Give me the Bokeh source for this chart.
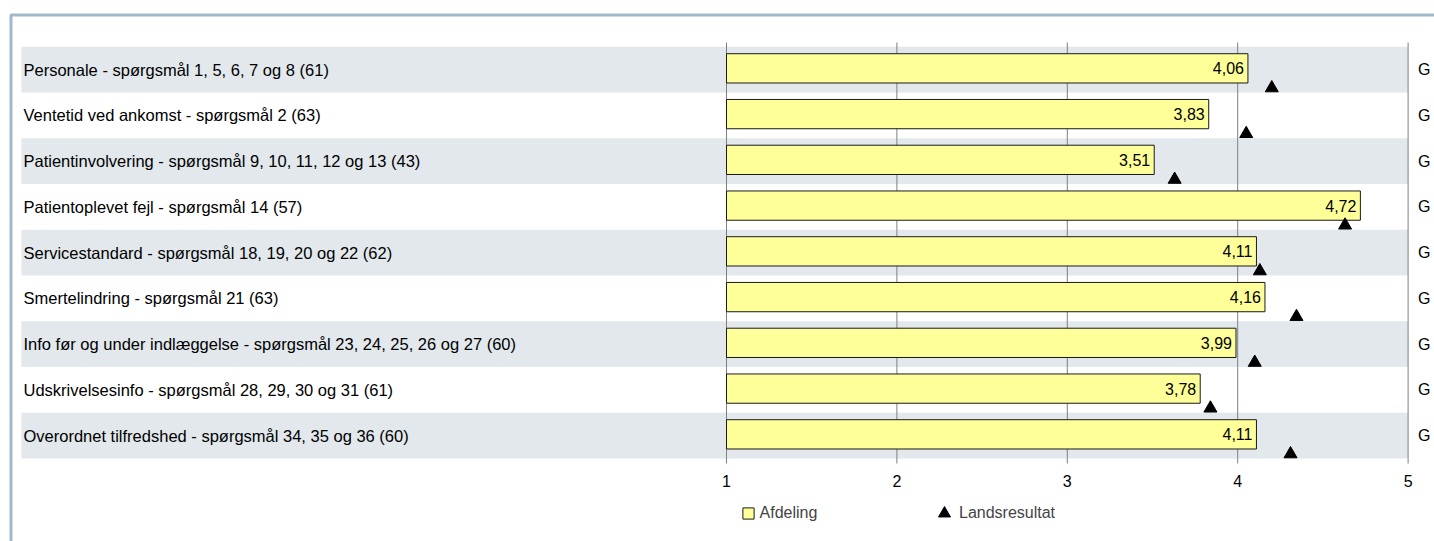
from bokeh.plotting import figure
from bokeh.models import Range1d, LinearAxis, FixedTicker, Legend, LegendItem, ColumnDataSource
from bokeh.core.properties import value
from bokeh.embed import file_html
from bokeh.resources import INLINE

# ---------------- data ----------------
categories = [
    "Personale - spørgsmål 1, 5, 6, 7 og 8 (61)",
    "Ventetid ved ankomst - spørgsmål 2 (63)",
    "Patientinvolvering - spørgsmål 9, 10, 11, 12 og 13 (43)",
    "Patientoplevet fejl - spørgsmål 14 (57)",
    "Servicestandard - spørgsmål 18, 19, 20 og 22 (62)",
    "Smertelindring - spørgsmål 21 (63)",
    "Info før og under indlæggelse - spørgsmål 23, 24, 25, 26 og 27 (60)",
    "Udskrivelsesinfo - spørgsmål 28, 29, 30 og 31 (61)",
    "Overordnet tilfredshed - spørgsmål 34, 35 og 36 (60)",
]
afdeling = [4.06, 3.83, 3.51, 4.72, 4.11, 4.16, 3.99, 3.78, 4.11]
landsresultat = [4.20, 4.05, 3.63, 4.63, 4.13, 4.345, 4.10, 3.84, 4.31]
side_marks = ["G", "G", "G", "G", "G", "G", "G", "G", "G"]
x_ticks = [1, 2, 3, 4, 5]
series_names = ["Afdeling", "Landsresultat"]

# ---------------- layout helpers ----------------
W, H = 1434, 541
PX_PER_UNIT = 170.4          # horizontal pixels per score unit
ONE_AT = 726                 # canvas x of score 1
ROW_PX = 45.75               # row pitch in pixels
ROW0_AT = 69                 # canvas y of first row centre

x_start = 1 - ONE_AT / PX_PER_UNIT
x_end = x_start + W / PX_PER_UNIT
y_top = -ROW0_AT / ROW_PX
y_bottom = (H - ROW0_AT) / ROW_PX

def cx(px):   # canvas px -> x data
    return x_start + px / PX_PER_UNIT

def cy(py):   # canvas px -> y data
    return (py - ROW0_AT) / ROW_PX

rows = list(range(len(categories)))
labels = [f"{v:.2f}".replace(".", ",") for v in afdeling]

src = ColumnDataSource(dict(
    row=rows,
    cat=categories,
    afd=afdeling,
    lands=landsresultat,
    lab=labels,
    mark=side_marks,
    bar_y=[r - 0.025 for r in rows],
    tri_y=[r + 0.405 for r in rows],
))
band_src = ColumnDataSource(dict(row=[r for r in rows if r % 2 == 0]))

p = figure(width=W, height=H, output_backend="svg", toolbar_location=None,
           x_range=Range1d(x_start, x_end), y_range=Range1d(y_bottom, y_top),
           x_axis_location=None, y_axis_location=None, min_border=0,
           outline_line_color=None, background_fill_color="white",
           border_fill_color="white")
p.xgrid.grid_line_color = None
p.ygrid.grid_line_color = None

FONT = value("Liberation Sans")

# frame border (left and top only)
p.line(x=[cx(10.5), cx(10.5), x_end + 1], y=[y_bottom + 1, cy(14.5), cy(14.5)],
       line_width=3, line_color="#a3b7cb")

# alternating row bands
p.hbar(y="row", left=cx(21), right=5, height=1, source=band_src,
       fill_color="#e2e8ec", line_color=None)

# vertical grid lines
p.segment(x0=x_ticks, x1=x_ticks, y0=[cy(42)] * len(x_ticks), y1=[cy(463)] * len(x_ticks),
          line_color="#7f7f7f", line_width=1)

# bars
bars = p.hbar(y="bar_y", left=1, right="afd", height=0.64, source=src,
              fill_color="#ffff99", line_color="#1a1a1a", line_width=1)

# national result markers
tris = p.scatter(x="lands", y="tri_y", source=src, marker="triangle", size=13,
                 fill_color="black", line_color="black")

# value labels inside bars
p.text(x="afd", y="bar_y", text="lab", source=src, text_align="right",
       text_baseline="middle", x_offset=-4, text_font=FONT,
       text_font_size="16px", text_color="black")

# category labels
p.text(x=x_start, y="row", text="cat", source=src, text_align="left",
       text_baseline="middle", x_offset=23, text_font=FONT,
       text_font_size="16.5px", text_color="black")

# right-hand marks
p.text(x=5, y="row", text="mark", source=src, text_align="left",
       text_baseline="middle", x_offset=10, text_font=FONT,
       text_font_size="16px", text_color="black")

# x axis
xaxis = LinearAxis(fixed_location=cy(463), ticker=FixedTicker(ticks=x_ticks),
                   axis_line_color=None, major_tick_line_color=None,
                   minor_tick_line_color=None, major_label_standoff=5,
                   major_label_text_font="Liberation Sans",
                   major_label_text_font_size="16px",
                   major_label_text_color="black")
p.add_layout(xaxis, "below")

# legends
leg1 = Legend(items=[LegendItem(label=series_names[0], renderers=[bars])],
              location=(740.6, 19), orientation="horizontal",
              glyph_width=14, glyph_height=14, label_standoff=5,
              label_text_font="Liberation Sans", label_text_font_size="16px",
              background_fill_alpha=0, border_line_alpha=0, padding=0, margin=0)
leg2 = Legend(items=[LegendItem(label=series_names[1], renderers=[tris])],
              location=(929, 13), orientation="horizontal",
              glyph_width=30, glyph_height=30, label_standoff=-1,
              label_text_font="Liberation Sans", label_text_font_size="16px",
              background_fill_alpha=0, border_line_alpha=0, padding=0, margin=0)
p.add_layout(leg1)
p.add_layout(leg2)

open("out.html", "w").write(file_html(p, INLINE))
